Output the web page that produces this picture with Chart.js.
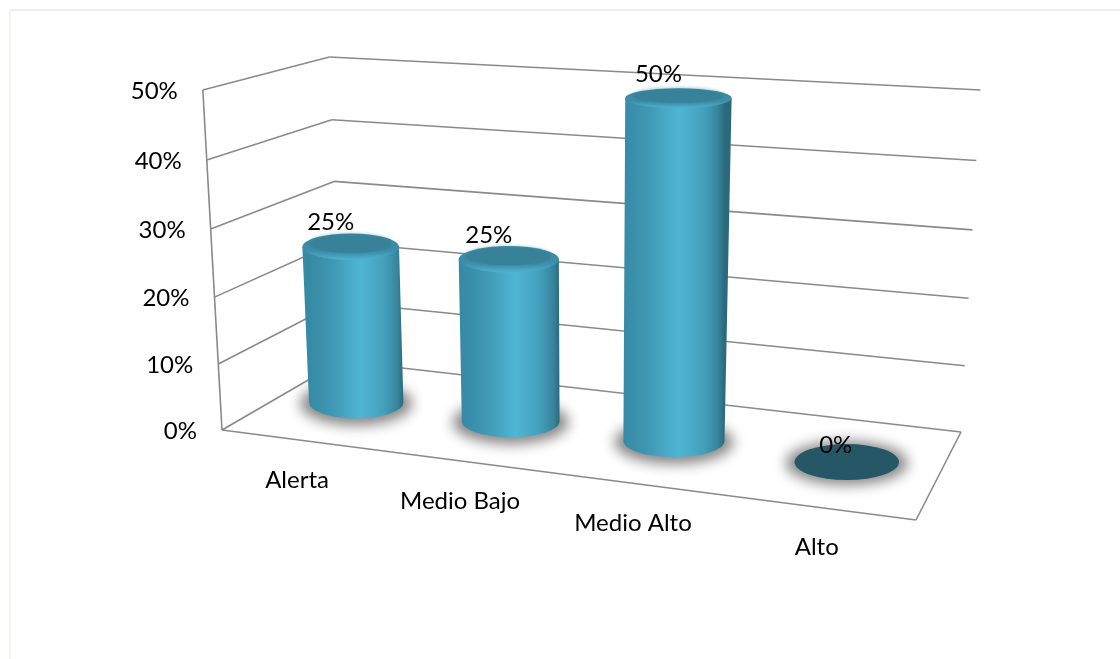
<!DOCTYPE html>
<html>
<head>
<meta charset="utf-8">
<title>Chart</title>
<script src="https://cdn.jsdelivr.net/npm/chart.js@4"></script>
<style>
  html, body { margin: 0; padding: 0; background: #fff; overflow: hidden; }
  #page { position: relative; width: 1120px; height: 659px; }
  #frame-top { position: absolute; left: 9px; right: 0; top: 9px; height: 2px; background: #eeeee6; }
  #frame-left { position: absolute; left: 9px; top: 9px; bottom: 0; width: 2px; background: #f5f5ee; }
  canvas { position: absolute; left: 0; top: 0; }
</style>
</head>
<body>
<div id="page">
  <div id="frame-top"></div>
  <div id="frame-left"></div>
  <canvas id="chart" width="1120" height="659"></canvas>
</div>
<script>
const categories = ["Alerta", "Medio Bajo", "Medio Alto", "Alto"];
const percentValues = [25, 25, 50, 0];
const tickValues = [0, 10, 20, 30, 40, 50];

const FONT = '24px Lato, "Open Sans", sans-serif';
const GRID_COLOR = "#8a8a8a";

// Floor corners of the 3D box, in page pixels
const FLOOR = {
  frontLeft: [222, 430],
  frontRight: [916, 520],
  backRight: [961, 432],
  backLeft: [341, 361],
};
const VANISH_X = 591;
const BAR_DEPTH = 0.5;
const BAR_SHIFT_X = -3;

// Unit square -> floor quad
function buildFloorMap(q) {
  const [x0, y0] = q.frontLeft;
  const [x1, y1] = q.frontRight;
  const [x2, y2] = q.backRight;
  const [x3, y3] = q.backLeft;
  const dx1 = x1 - x2, dx2 = x3 - x2, sx = x0 - x1 + x2 - x3;
  const dy1 = y1 - y2, dy2 = y3 - y2, sy = y0 - y1 + y2 - y3;
  const den = dx1 * dy2 - dx2 * dy1;
  const g = (sx * dy2 - dx2 * sy) / den;
  const h = (dx1 * sy - sx * dy1) / den;
  const a = x1 - x0 + g * x1, b = x3 - x0 + h * x3;
  const d = y1 - y0 + g * y1, e = y3 - y0 + h * y3;
  return (u, v) => {
    const w = g * u + h * v + 1;
    return [(a * u + b * v + x0) / w, (d * u + e * v + y0) / w];
  };
}
const floorMap = buildFloorMap(FLOOR);

// Wall height shrinks towards the back left corner
function heightFactor(u, v) {
  const front = 1 + 0.3 * u;
  const back = 0.894 + 0.112 * u;
  return front + (back - front) * Math.min(1, v * 1.6);
}

// Box position (u along x, v into depth) at a chart value -> page pixels
function project(chart, u, v, value) {
  const yScale = chart.scales.y;
  const [bx, by] = floorMap(u, v);
  const full = yScale.getPixelForValue(0) - yScale.getPixelForValue(yScale.max);
  const raw = yScale.getPixelForValue(0) - yScale.getPixelForValue(value);
  const t = raw / full;
  // the walls bow a little, the steps get taller going up
  const h = (raw - 13 * t * (1 - t)) * heightFactor(u, v);
  const spread = 1 + (0.052 * h) / 340;
  return { x: VANISH_X + (bx - VANISH_X) * spread, y: by - h, h: h, spread: spread };
}

function barU(chart, bar) {
  const area = chart.chartArea;
  return (bar.x - area.left) / (area.right - area.left);
}

function barPoint(chart, bar, value) {
  const p = project(chart, barU(chart, bar), BAR_DEPTH, value);
  p.x += BAR_SHIFT_X;
  return p;
}

function barRadius(chart, bar) {
  return (bar.width / 2) * (0.965 + 0.14 * barU(chart, bar));
}

function line(ctx, a, b) {
  ctx.beginPath();
  ctx.moveTo(a.x, a.y);
  ctx.lineTo(b.x, b.y);
  ctx.stroke();
}

function drawBox(chart) {
  const ctx = chart.ctx;
  ctx.save();
  ctx.strokeStyle = GRID_COLOR;
  ctx.lineWidth = 1.6;
  tickValues.forEach((v) => {
    line(ctx, project(chart, 0, 0, v), project(chart, 0, 1, v));
    line(ctx, project(chart, 0, 1, v), project(chart, 1, 1, v));
  });
  line(ctx, project(chart, 0, 0, 0), project(chart, 0, 0, tickValues[tickValues.length - 1]));
  line(ctx, project(chart, 0, 0, 0), project(chart, 1, 0, 0));
  line(ctx, project(chart, 1, 0, 0), project(chart, 1, 1, 0));
  ctx.restore();
}

function ellipse(ctx, x, y, rx, ry) {
  ctx.beginPath();
  ctx.ellipse(x, y, rx, ry, 0, 0, Math.PI * 2);
}

function drawCylinder(ctx, base, top, rxBase, rxTop, ryBase, ryTop) {
  // Side wall
  const grad = ctx.createLinearGradient(base.x - rxBase, 0, base.x + rxBase, 0);
  grad.addColorStop(0, "#368aa4");
  grad.addColorStop(0.25, "#3f98b4");
  grad.addColorStop(0.55, "#4fb6d4");
  grad.addColorStop(0.8, "#439fbc");
  grad.addColorStop(0.94, "#37839b");
  grad.addColorStop(1, "#2a6a7c");
  ctx.fillStyle = grad;
  ctx.beginPath();
  ctx.moveTo(top.x - rxTop, top.y);
  ctx.lineTo(base.x - rxBase, base.y);
  ctx.ellipse(base.x, base.y, rxBase, ryBase, 0, Math.PI, 0, true);
  ctx.lineTo(top.x + rxTop, top.y);
  ctx.closePath();
  ctx.fill();

  // Top with bevelled rim
  const rim = ctx.createLinearGradient(0, top.y - ryTop, 0, top.y + ryTop);
  rim.addColorStop(0, "#3a86a0");
  rim.addColorStop(0.65, "#3c8fab");
  rim.addColorStop(1, "#4db3d0");
  ctx.fillStyle = rim;
  ellipse(ctx, top.x, top.y, rxTop, ryTop);
  ctx.fill();
  ctx.save();
  ctx.shadowColor = "#378299";
  ctx.shadowBlur = 5;
  ctx.fillStyle = "#378299";
  ellipse(ctx, top.x, top.y - ryTop * 0.2, rxTop * 0.84, ryTop * 0.66);
  ctx.fill();
  ctx.restore();
}

const cylinderPlugin = {
  id: "cylinders",
  beforeDatasetsDraw(chart) {
    drawBox(chart);
  },
  afterDatasetsDraw(chart) {
    const ctx = chart.ctx;
    const yScale = chart.scales.y;
    const bars = chart.getDatasetMeta(0).data;

    // Only the blur of the ellipse lands on the page, the ellipse itself is off canvas
    bars.forEach((bar) => {
      const base = barPoint(chart, bar, 0);
      const rx = barRadius(chart, bar);
      ctx.save();
      ctx.shadowColor = "rgba(135,135,135,1)";
      ctx.shadowBlur = 13;
      ctx.shadowOffsetX = 3000;
      ctx.fillStyle = "#000";
      ellipse(ctx, base.x - 3000, base.y + 1, rx + 9, 22);
      ctx.fill();
      ctx.restore();
    });

    bars.forEach((bar, i) => {
      const value = percentValues[i];
      const base = barPoint(chart, bar, 0);
      const top = barPoint(chart, bar, value);
      const rx = barRadius(chart, bar);
      if (value === 0) {
        ctx.fillStyle = "#265766";
        ellipse(ctx, base.x, base.y, rx, 18);
        ctx.fill();
      } else {
        drawCylinder(ctx, base, top, rx, rx * top.spread, 16, 16 - (6 * top.h) / 340);
      }
    });

    // Text
    ctx.save();
    ctx.font = FONT;
    ctx.fillStyle = "#000";
    ctx.textBaseline = "middle";

    ctx.textAlign = "center";
    bars.forEach((bar, i) => {
      const top = barPoint(chart, bar, percentValues[i]);
      const flat = percentValues[i] === 0;
      ctx.fillText(percentValues[i] + "%", top.x + (flat ? -11 : -20), top.y + (flat ? -17 : -24));
    });

    bars.forEach((bar, i) => {
      const edge = floorMap(barU(chart, bar), 0);
      ctx.fillText(categories[i], edge[0] - 3, edge[1] + 40);
    });

    ctx.textAlign = "right";
    yScale.ticks.forEach((tick) => {
      const p = project(chart, 0, 0, tick.value);
      ctx.fillText(tick.label, p.x - 25, p.y + 1);
    });
    ctx.restore();
  },
};

new Chart(document.getElementById("chart").getContext("2d"), {
  type: "bar",
  data: {
    labels: categories,
    datasets: [
      {
        data: percentValues,
        backgroundColor: "transparent",
        borderWidth: 0,
        barPercentage: 0.56,
        categoryPercentage: 1,
      },
    ],
  },
  options: {
    responsive: false,
    animation: false,
    layout: { padding: { left: 222, right: 204, top: 82, bottom: 229 } },
    plugins: { legend: { display: false }, tooltip: { enabled: false } },
    scales: {
      x: {
        grid: { display: false },
        border: { display: false },
        ticks: { display: false },
      },
      y: {
        min: 0,
        max: 50,
        grid: { display: false },
        border: { display: false },
        ticks: { display: false, stepSize: 10, callback: (value) => `${value}%` },
      },
    },
  },
  plugins: [cylinderPlugin],
});
</script>
</body>
</html>
